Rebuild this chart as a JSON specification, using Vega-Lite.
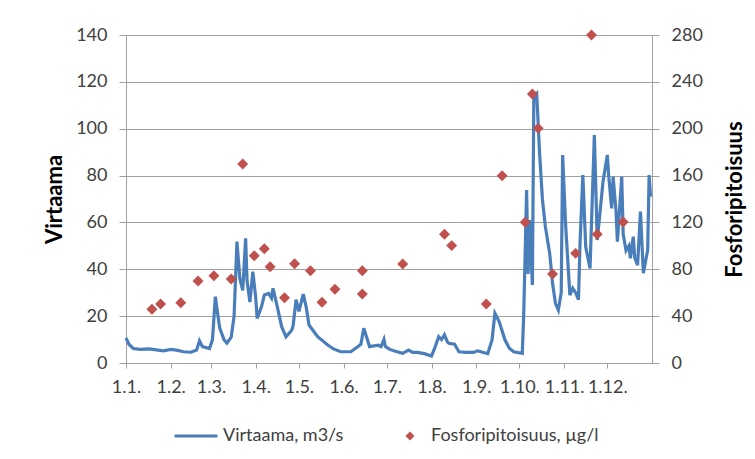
{
  "$schema": "https://vega.github.io/schema/vega-lite/v6.json",
  "width": 526,
  "height": 328,
  "autosize": {"type": "none"},
  "padding": {"left": 126, "top": 35, "right": 103, "bottom": 96},
  "background": "white",
  "config": {
    "font": "Lato",
    "view": {"stroke": null},
    "axis": {
      "labelFont": "Lato",
      "titleFont": "Lato",
      "labelFontSize": 18,
      "labelColor": "#404040",
      "domainColor": "#A0A0A0",
      "tickColor": "#A0A0A0",
      "gridColor": "#A0A0A0",
      "labelFlush": false,
      "labelOverlap": false,
      "labelBound": false
    },
    "legend": {"labelFont": "Lato", "labelFontSize": 18, "labelColor": "#404040", "padding": 0, "labelLimit": 500}
  },
  "datasets": {
    "flow": [
      {"date": "2010-01-01", "flow": 10.7}, {"date": "2010-01-03", "flow": 8}, {"date": "2010-01-06", "flow": 6.2},
      {"date": "2010-01-11", "flow": 5.8}, {"date": "2010-01-17", "flow": 6.0}, {"date": "2010-01-22", "flow": 5.6},
      {"date": "2010-01-27", "flow": 5.2}, {"date": "2010-02-01", "flow": 5.8}, {"date": "2010-02-05", "flow": 5.5},
      {"date": "2010-02-10", "flow": 4.8}, {"date": "2010-02-15", "flow": 4.6}, {"date": "2010-02-19", "flow": 5.5},
      {"date": "2010-02-21", "flow": 9.5}, {"date": "2010-02-23", "flow": 7}, {"date": "2010-02-28", "flow": 6.2},
      {"date": "2010-03-02", "flow": 10}, {"date": "2010-03-04", "flow": 28.3}, {"date": "2010-03-07", "flow": 15},
      {"date": "2010-03-10", "flow": 10}, {"date": "2010-03-12", "flow": 8.5}, {"date": "2010-03-15", "flow": 11},
      {"date": "2010-03-17", "flow": 20}, {"date": "2010-03-19", "flow": 51.8}, {"date": "2010-03-21", "flow": 36},
      {"date": "2010-03-23", "flow": 31}, {"date": "2010-03-25", "flow": 53.2}, {"date": "2010-03-26", "flow": 35},
      {"date": "2010-03-28", "flow": 26}, {"date": "2010-03-30", "flow": 39}, {"date": "2010-04-01", "flow": 28},
      {"date": "2010-04-02", "flow": 19}, {"date": "2010-04-05", "flow": 24}, {"date": "2010-04-07", "flow": 29},
      {"date": "2010-04-10", "flow": 29.7}, {"date": "2010-04-12", "flow": 27.7}, {"date": "2010-04-13", "flow": 31.9},
      {"date": "2010-04-16", "flow": 24}, {"date": "2010-04-19", "flow": 15.5}, {"date": "2010-04-22", "flow": 11.2},
      {"date": "2010-04-26", "flow": 14}, {"date": "2010-04-27", "flow": 16}, {"date": "2010-04-29", "flow": 27},
      {"date": "2010-05-01", "flow": 22}, {"date": "2010-05-04", "flow": 29.4}, {"date": "2010-05-06", "flow": 24},
      {"date": "2010-05-08", "flow": 16.2}, {"date": "2010-05-14", "flow": 11.2}, {"date": "2010-05-21", "flow": 7.7},
      {"date": "2010-05-25", "flow": 6}, {"date": "2010-05-30", "flow": 4.8}, {"date": "2010-06-06", "flow": 4.8},
      {"date": "2010-06-11", "flow": 7}, {"date": "2010-06-13", "flow": 8}, {"date": "2010-06-15", "flow": 14.8},
      {"date": "2010-06-17", "flow": 11}, {"date": "2010-06-19", "flow": 7}, {"date": "2010-06-25", "flow": 7.6},
      {"date": "2010-06-27", "flow": 7}, {"date": "2010-06-29", "flow": 10.1}, {"date": "2010-06-30", "flow": 7},
      {"date": "2010-07-03", "flow": 5.8}, {"date": "2010-07-07", "flow": 5}, {"date": "2010-07-12", "flow": 4.1},
      {"date": "2010-07-16", "flow": 5.5}, {"date": "2010-07-19", "flow": 4.5}, {"date": "2010-07-22", "flow": 4.5},
      {"date": "2010-07-27", "flow": 4}, {"date": "2010-08-01", "flow": 3}, {"date": "2010-08-03", "flow": 6},
      {"date": "2010-08-06", "flow": 11.2}, {"date": "2010-08-08", "flow": 10}, {"date": "2010-08-10", "flow": 12},
      {"date": "2010-08-12", "flow": 9}, {"date": "2010-08-13", "flow": 8.4}, {"date": "2010-08-17", "flow": 8},
      {"date": "2010-08-20", "flow": 4.8}, {"date": "2010-08-25", "flow": 4.5}, {"date": "2010-08-30", "flow": 4.5},
      {"date": "2010-09-02", "flow": 5.2}, {"date": "2010-09-06", "flow": 4.5}, {"date": "2010-09-09", "flow": 4},
      {"date": "2010-09-12", "flow": 9.8}, {"date": "2010-09-14", "flow": 21.2}, {"date": "2010-09-17", "flow": 17.6},
      {"date": "2010-09-21", "flow": 9.8}, {"date": "2010-09-24", "flow": 6.3}, {"date": "2010-09-27", "flow": 4.8},
      {"date": "2010-10-03", "flow": 4.1}, {"date": "2010-10-04", "flow": 21.2}, {"date": "2010-10-06", "flow": 73.8},
      {"date": "2010-10-07", "flow": 38}, {"date": "2010-10-08", "flow": 61}, {"date": "2010-10-10", "flow": 33.3},
      {"date": "2010-10-11", "flow": 113.7}, {"date": "2010-10-13", "flow": 115}, {"date": "2010-10-15", "flow": 89.5},
      {"date": "2010-10-17", "flow": 69.6}, {"date": "2010-10-19", "flow": 58.2}, {"date": "2010-10-22", "flow": 46.8},
      {"date": "2010-10-24", "flow": 34}, {"date": "2010-10-26", "flow": 25.5}, {"date": "2010-10-28", "flow": 22.6},
      {"date": "2010-10-30", "flow": 30}, {"date": "2010-10-31", "flow": 88.8}, {"date": "2010-11-02", "flow": 59.6},
      {"date": "2010-11-05", "flow": 29}, {"date": "2010-11-07", "flow": 31.9}, {"date": "2010-11-09", "flow": 30},
      {"date": "2010-11-11", "flow": 27}, {"date": "2010-11-12", "flow": 50}, {"date": "2010-11-14", "flow": 80.2},
      {"date": "2010-11-16", "flow": 49.6}, {"date": "2010-11-19", "flow": 40.4}, {"date": "2010-11-22", "flow": 97.3},
      {"date": "2010-11-24", "flow": 52.5}, {"date": "2010-11-27", "flow": 71}, {"date": "2010-11-28", "flow": 77.4},
      {"date": "2010-12-01", "flow": 88.8}, {"date": "2010-12-02", "flow": 79.5}, {"date": "2010-12-04", "flow": 66},
      {"date": "2010-12-05", "flow": 79.5}, {"date": "2010-12-07", "flow": 65}, {"date": "2010-12-08", "flow": 51.8},
      {"date": "2010-12-11", "flow": 79.5}, {"date": "2010-12-12", "flow": 55}, {"date": "2010-12-14", "flow": 48},
      {"date": "2010-12-16", "flow": 50}, {"date": "2010-12-17", "flow": 44.7}, {"date": "2010-12-19", "flow": 53.9},
      {"date": "2010-12-20", "flow": 45}, {"date": "2010-12-22", "flow": 41.8}, {"date": "2010-12-24", "flow": 64.6},
      {"date": "2010-12-26", "flow": 38.3}, {"date": "2010-12-29", "flow": 48.2}, {"date": "2010-12-30", "flow": 80.2},
      {"date": "2010-12-31", "flow": 71}
    ],
    "phos": [
      {"date": "2010-01-19", "p": 45.8}, {"date": "2010-01-25", "p": 50.4}, {"date": "2010-02-08", "p": 51.5},
      {"date": "2010-02-20", "p": 70}, {"date": "2010-03-03", "p": 74.5}, {"date": "2010-03-15", "p": 71.7},
      {"date": "2010-03-23", "p": 169.9}, {"date": "2010-03-31", "p": 91.6}, {"date": "2010-04-07", "p": 97.6},
      {"date": "2010-04-11", "p": 82.2}, {"date": "2010-04-21", "p": 55.7}, {"date": "2010-04-28", "p": 84.8},
      {"date": "2010-05-09", "p": 78.8}, {"date": "2010-05-17", "p": 51.8}, {"date": "2010-05-26", "p": 62.9},
      {"date": "2010-06-14", "p": 78.8}, {"date": "2010-06-14", "p": 58.9}, {"date": "2010-07-12", "p": 84.5},
      {"date": "2010-08-10", "p": 109.9}, {"date": "2010-08-15", "p": 100.2}, {"date": "2010-09-08", "p": 50.4},
      {"date": "2010-09-19", "p": 159.9}, {"date": "2010-10-05", "p": 120.1}, {"date": "2010-10-10", "p": 229.6},
      {"date": "2010-10-14", "p": 200.3}, {"date": "2010-10-24", "p": 76}, {"date": "2010-11-09", "p": 93.6},
      {"date": "2010-11-20", "p": 280}, {"date": "2010-11-24", "p": 109.9}, {"date": "2010-12-12", "p": 120.4}
    ]
  },
  "layer": [
    {
      "data": {"name": "flow"},
      "mark": {"type": "line", "strokeWidth": 3.2, "interpolate": "linear"},
      "encoding": {
        "x": {
          "field": "date", "type": "temporal",
          "scale": {"type": "utc", "domain": [{"year": 2010, "month": 1, "date": 1, "utc": true}, {"year": 2011, "month": 1, "date": 1, "utc": true}]},
          "axis": {
            "title": null, "grid": false, "tickSize": 5, "labelPadding": 10,
            "values": [
              {"year": 2010, "month": 1, "date": 1, "utc": true}, {"year": 2010, "month": 2, "date": 1, "utc": true},
              {"year": 2010, "month": 3, "date": 1, "utc": true}, {"year": 2010, "month": 4, "date": 1, "utc": true},
              {"year": 2010, "month": 5, "date": 1, "utc": true}, {"year": 2010, "month": 6, "date": 1, "utc": true},
              {"year": 2010, "month": 7, "date": 1, "utc": true}, {"year": 2010, "month": 8, "date": 1, "utc": true},
              {"year": 2010, "month": 9, "date": 1, "utc": true}, {"year": 2010, "month": 10, "date": 1, "utc": true},
              {"year": 2010, "month": 11, "date": 1, "utc": true}, {"year": 2010, "month": 12, "date": 1, "utc": true}
            ],
            "labelExpr": "utcFormat(datum.value, '%-d.%-m.')"
          }
        },
        "y": {
          "field": "flow", "type": "quantitative",
          "scale": {"domain": [0, 140], "nice": false},
          "axis": {
            "values": [0, 20, 40, 60, 80, 100, 120, 140],
            "grid": true, "tickSize": 7, "labelPadding": 12,
            "title": "Virtaama", "titleFontSize": 22, "titleFontWeight": "bold", "titleColor": "#000000",
            "titleAngle": 270, "titleX": -72, "titleY": 164, "titleBaseline": "middle", "titleAlign": "center"
          }
        },
        "color": {
          "datum": "Virtaama, m3/s",
          "scale": {"range": ["#4A7EBB"]},
          "legend": {
            "title": null, "orient": "none", "legendX": 47, "legendY": 378,
            "symbolType": "stroke", "symbolSize": 1849, "symbolStrokeWidth": 3, "labelOffset": 4
          }
        }
      }
    },
    {
      "data": {"name": "phos"},
      "mark": {"type": "point", "shape": "diamond", "filled": true, "size": 120, "color": "#C0504D", "opacity": 1},
      "encoding": {
        "x": {"field": "date", "type": "temporal"},
        "y": {
          "field": "p", "type": "quantitative",
          "scale": {"domain": [0, 280], "nice": false},
          "axis": {
            "orient": "right",
            "values": [0, 40, 80, 120, 160, 200, 240, 280],
            "grid": false, "tickSize": 7, "labelPadding": 12,
            "title": "Fosforipitoisuus", "titleFontSize": 22, "titleFontWeight": "bold", "titleColor": "#000000",
            "titleAngle": 270, "titleX": 82, "titleY": 164, "titleBaseline": "middle", "titleAlign": "center"
          }
        },
        "shape": {
          "datum": "Fosforipitoisuus, µg/l",
          "scale": {"range": ["diamond"]},
          "legend": {
            "title": null, "orient": "none", "legendX": 275, "legendY": 392,
            "symbolSize": 80, "labelOffset": 12,
            "symbolFillColor": "#C0504D", "symbolStrokeColor": "#C0504D"
          }
        }
      }
    }
  ],
  "resolve": {"scale": {"y": "independent", "color": "independent", "shape": "independent"}}
}
